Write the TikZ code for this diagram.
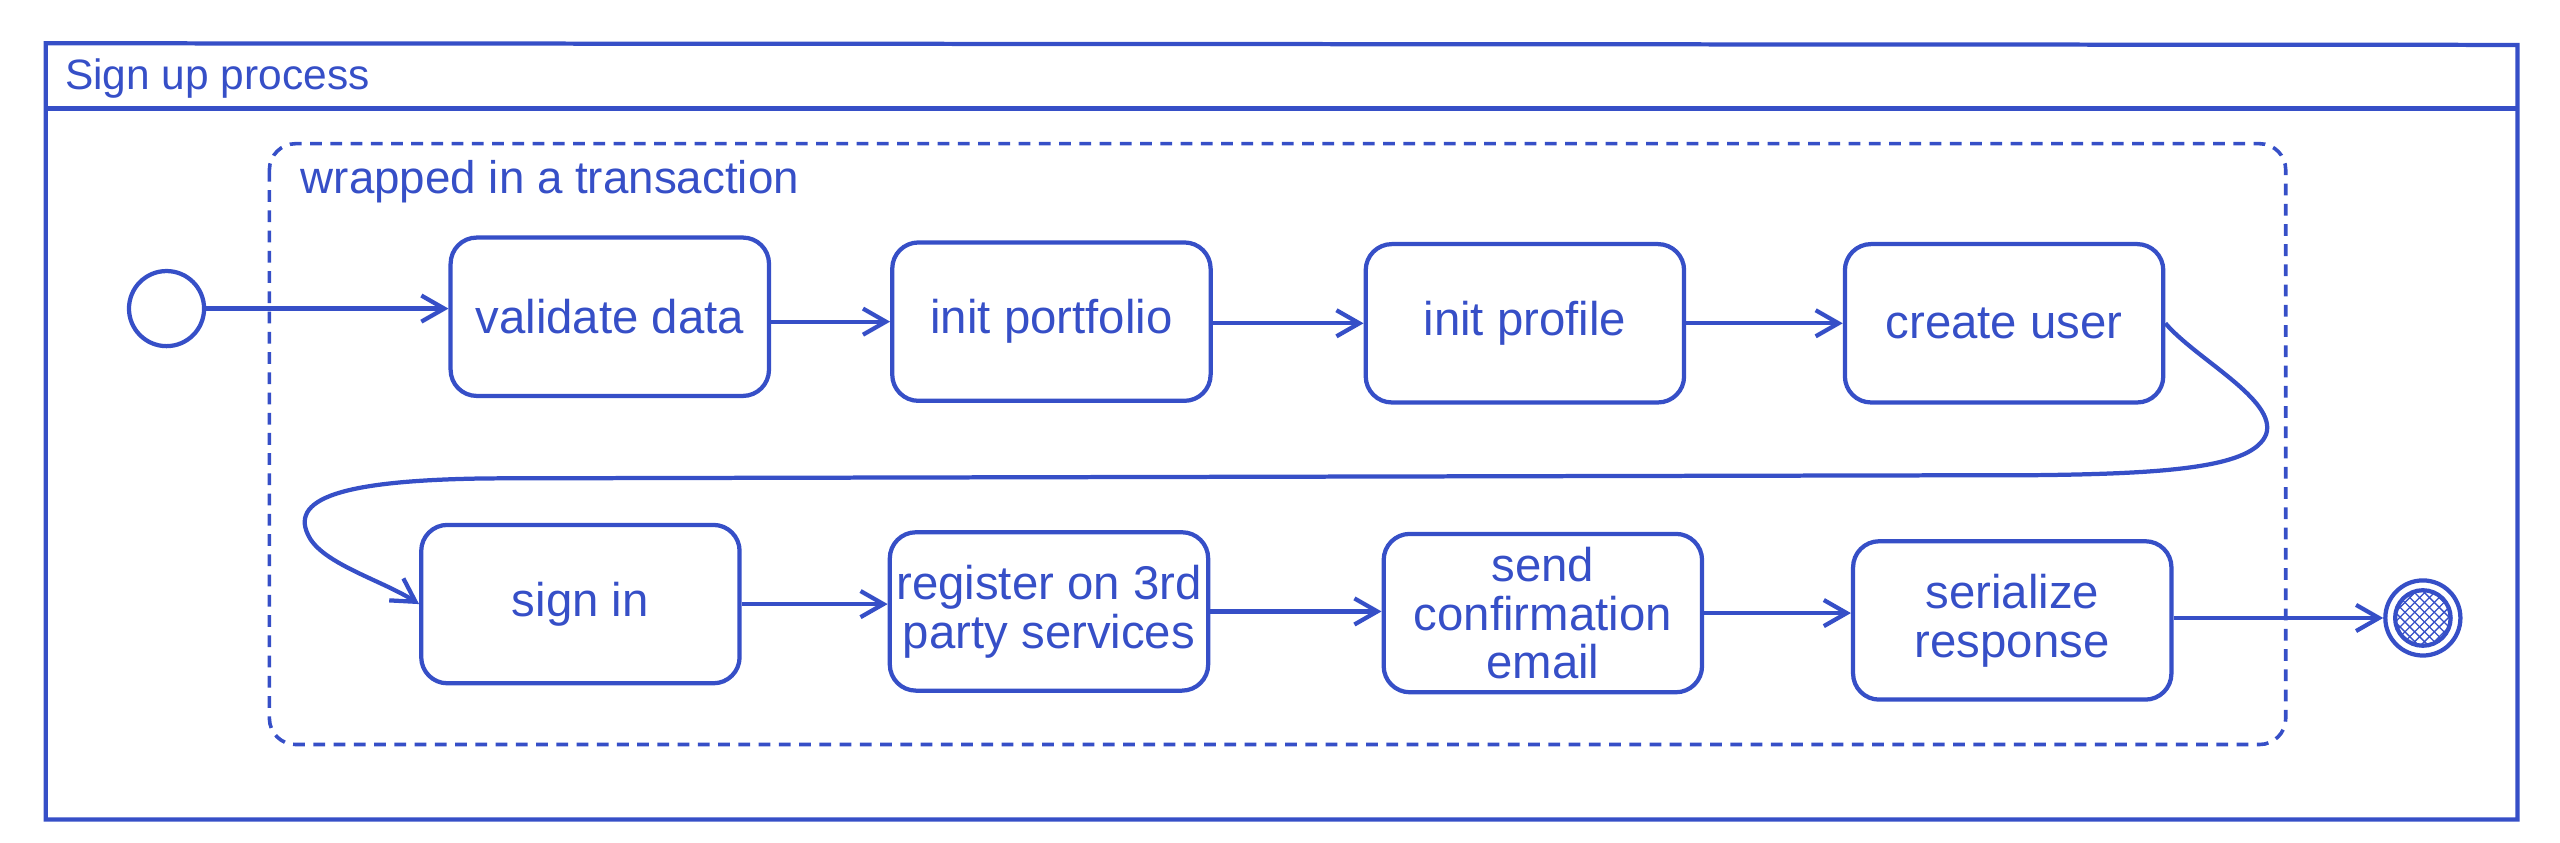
\documentclass[tikz,border=0pt]{standalone}
\usepackage{fontspec}
\setmainfont{Liberation Sans}
\usetikzlibrary{arrows.meta,patterns}
\definecolor{ink}{HTML}{364FC7}
\begin{document}
\begin{tikzpicture}[x=0.5pt,y=-0.5pt, line width=1.3pt, draw=ink, text=ink,
  box/.style={draw, rounded corners=8pt, minimum width=97.5pt, minimum height=48.5pt,
    inner sep=0pt, align=center, font=\fontsize{14.5}{15}\selectfont},
  endpt/.style={circle, draw, minimum size=23pt, inner sep=0pt},
  arr/.style={-{Straight Barb[length=7pt,width=8pt,line width=1.3pt]}},
  txn/.style={line width=1.1pt, dash pattern=on 3.6pt off 2.6pt, rounded corners=8pt}]
\useasboundingbox (0,0) rectangle (1568,516);
% outer frame
\draw (28,26.5) -- (1542,27.5) -- (1542,502) -- (28,502) -- cycle;
\draw (28,66.5) -- (1542,66.5);
\node[anchor=base west, inner sep=0pt, font=\fontsize{13}{15}\selectfont] (title) at (38.6,55) {Sign up process};
% transaction region
\draw[txn] (165,88) rectangle (1400,456);
\node[anchor=base west, inner sep=0pt, font=\fontsize{14}{16}\selectfont] (txnlabel) at (183,118.5) {wrapped in a transaction};
% nodes
\node[endpt] (start) at (102,189) {};
\node[box] (validate) at (373.5,194) {validate data};
\node[box] (portfolio) at (644,197) {init portfolio};
\node[box] (profile) at (934,198) {init profile};
\node[box] (create) at (1227.5,198) {create user};
\node[box] (signin) at (355.5,370) {sign in};
\node[box] (register) at (642.5,374.5) {register on 3rd\\party services};
\node[box] (send) at (945,375.5) {send\\confirmation\\email};
\node[box] (serialize) at (1232.5,380) {serialize\\response};
\node[endpt] (end) at (1484,378.5) {};
\fill[pattern=north east lines, pattern color=ink] (end.center) circle (8.5pt);
\fill[pattern=north west lines, pattern color=ink] (end.center) circle (8.5pt);
\draw (end.center) circle (8.5pt);
% connectors
\draw[arr] (start.east) -- (start.east -| validate.west);
\draw[arr] (validate.east |- portfolio.west) -- (portfolio.west);
\draw[arr] (portfolio.east |- profile.west) -- (profile.west);
\draw[arr] (profile.east |- create.west) -- (create.west);
\draw[arr] (create.east) .. controls (1345,220) and (1395,245) .. (1388,266)
  .. controls (1380,286) and (1330,290) .. (1250,291) -- (300,293)
  .. controls (210,294) and (175,305) .. (190,330)
  .. controls (200,346) and (235,356) .. (signin.west);
\draw[arr] (signin.east) -- (signin.east -| register.west);
\draw[arr] (register.east) -- (register.east -| send.west);
\draw[arr] (send.east) -- (send.east -| serialize.west);
\draw[arr] (serialize.east |- end.west) -- (end.west);
\end{tikzpicture}
\end{document}
